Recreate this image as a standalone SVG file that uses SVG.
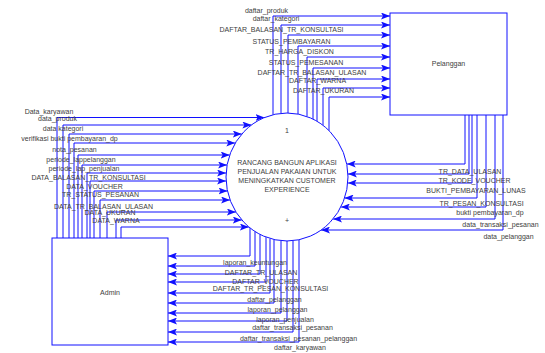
<svg xmlns="http://www.w3.org/2000/svg" width="545" height="353" viewBox="0 0 545 353">
<style>
.t{font-family:"Liberation Sans",Arial,sans-serif;font-size:7px;fill:#404040;text-anchor:middle}
.c{fill:none;stroke:#1010ff;stroke-width:1}
.n{fill:#fff;stroke:#1010ff;stroke-width:1}
</style>
<defs>
<marker id="a" markerWidth="9" markerHeight="7" refX="9" refY="3.5" orient="auto" markerUnits="userSpaceOnUse"><path d="M0,0 L9,3.5 L0,7 L2,3.5 z" fill="#1010ff"/></marker>
</defs>
<g id="connectors">
<g marker-end="url(#a)" class="c">
<path d="M273 114.7 V16 H390"/>
<path d="M281 113.3 V25 H390"/>
<path d="M288 113 V35 H390"/>
<path d="M298 114.1 V46 H390"/>
<path d="M307 116.5 V57 H390"/>
<path d="M313 119.1 V68 H390"/>
<path d="M317 121.3 V79 H390"/>
<path d="M323 125.3 V88 H390"/>
<path d="M329 130.6 V97 H390"/>
<path d="M57 238 V117.5 H264.5"/>
<path d="M63 238 V125 H251.4"/>
<path d="M69 238 V134 H241.8"/>
<path d="M74 238 V143 H235.3"/>
<path d="M78 238 V155 H229.7"/>
<path d="M82 238 V165 H227.1"/>
<path d="M87 238 V173 H226.1"/>
<path d="M90 238 V181 H226.1"/>
<path d="M94 238 V191 H227.5"/>
<path d="M100 238 V200 H230.1"/>
<path d="M107 238 V212 H235.9"/>
<path d="M116 238 V220 H241.8"/>
<path d="M121 238 V227 H248.9"/>
<path d="M465 115 V164 H346.7"/>
<path d="M469 115 V174 H347.9"/>
<path d="M472 115 V183 H347.7"/>
<path d="M477 115 V198 H344.6"/>
<path d="M486 115 V207 H340.9"/>
<path d="M495 115 V219 H333"/>
<path d="M503 115 V230 H321"/>
<path d="M250 227.9 V256 H168"/>
<path d="M255 231.5 V266 H168"/>
<path d="M260 234.4 V274 H168"/>
<path d="M266 237.1 V282 H168"/>
<path d="M270 238.5 V293 H168"/>
<path d="M274 239.5 V303 H168"/>
<path d="M281 240.7 V313 H168"/>
<path d="M287 241 V321 H168"/>
<path d="M293 240.7 V332 H168"/>
<path d="M299 239.8 V342 H168"/>
</g>
<g class="t">
<text x="266.5" y="13">daftar_produk</text>
<text x="276" y="21">daftar_kategori</text>
<text x="281.5" y="31.5">DAFTAR_BALASAN_TR_KONSULTASI</text>
<text x="291.5" y="43.5">STATUS_PEMBAYARAN</text>
<text x="299.5" y="53.5">TR_HARGA_DISKON</text>
<text x="306" y="64.5">STATUS_PEMESANAN</text>
<text x="312" y="74.5">DAFTAR_TR_BALASAN_ULASAN</text>
<text x="317.5" y="82.5">DAFTAR_WARNA</text>
<text x="323.5" y="92.5">DAFTAR_UKURAN</text>
<text x="49" y="114">Data_karyawan</text>
<text x="57.5" y="121">data_produk</text>
<text x="63" y="131">data kategori</text>
<text x="69.5" y="141">verifikasi bukti pembayaran_dp</text>
<text x="74.5" y="152">nota_pesanan</text>
<text x="81" y="162">periode_lappelanggan</text>
<text x="84" y="171">periode_lap_penjualan</text>
<text x="88.5" y="179.5">DATA_BALASAN_TR_KONSULTASI</text>
<text x="94.5" y="188.5">DATA_VOUCHER</text>
<text x="100.5" y="196.5">TR_STATUS_PESANAN</text>
<text x="103.5" y="208.5">DATA_TR_BALASAN_ULASAN</text>
<text x="110" y="214.5">DATA_UKURAN</text>
<text x="116" y="222.5">DATA_WARNA</text>
<text x="470" y="173.5">TR_DATA_ULASAN</text>
<text x="474.5" y="182.5">TR_KODE_VOUCHER</text>
<text x="476" y="192.5">BUKTI_PEMBAYARAN_LUNAS</text>
<text x="481.5" y="205.5">TR_PESAN_KONSULTASI</text>
<text x="490" y="215">bukti pembayaran_dp</text>
<text x="500.5" y="227">data_transaksi_pesanan</text>
<text x="508.5" y="239">data_pelanggan</text>
<text x="255" y="265">laporan_keuntungan</text>
<text x="261" y="274.5">DAFTAR_TR_ULASAN</text>
<text x="265.5" y="283.5">DAFTAR_VOUCHER</text>
<text x="270.5" y="290.5">DAFTAR_TR_PESAN_KONSULTASI</text>
<text x="274.5" y="302">daftar_pelanggan</text>
<text x="277.5" y="312">laporan_pelanggan</text>
<text x="285" y="322">laporan_penjualan</text>
<text x="292.5" y="330">daftar_transaksi_pesanan</text>
<text x="298.5" y="341">daftar_transaksi_pesanan_pelanggan</text>
<text x="300" y="350">daftar_karyawan</text>
</g>
</g>
<g id="pelanggan">
<rect class="n" x="390" y="13" width="117" height="102"/>
<text class="t" x="448.5" y="66">Pelanggan</text>
</g>
<g id="admin">
<rect class="n" x="52" y="238" width="116" height="107"/>
<text class="t" x="110" y="295">Admin</text>
</g>
<g id="process">
<ellipse class="n" cx="287" cy="177" rx="61" ry="64"/>
<text class="t" x="287" y="133">1</text>
<text class="t" x="287" y="164.5">RANCANG BANGUN APLIKASI</text>
<text class="t" x="287" y="173.5">PENJUALAN PAKAIAN UNTUK</text>
<text class="t" x="287" y="182.5">MENINGKATKAN CUSTOMER</text>
<text class="t" x="287" y="191.5">EXPERIENCE</text>
<text class="t" x="287" y="223">+</text>
</g>
</svg>
